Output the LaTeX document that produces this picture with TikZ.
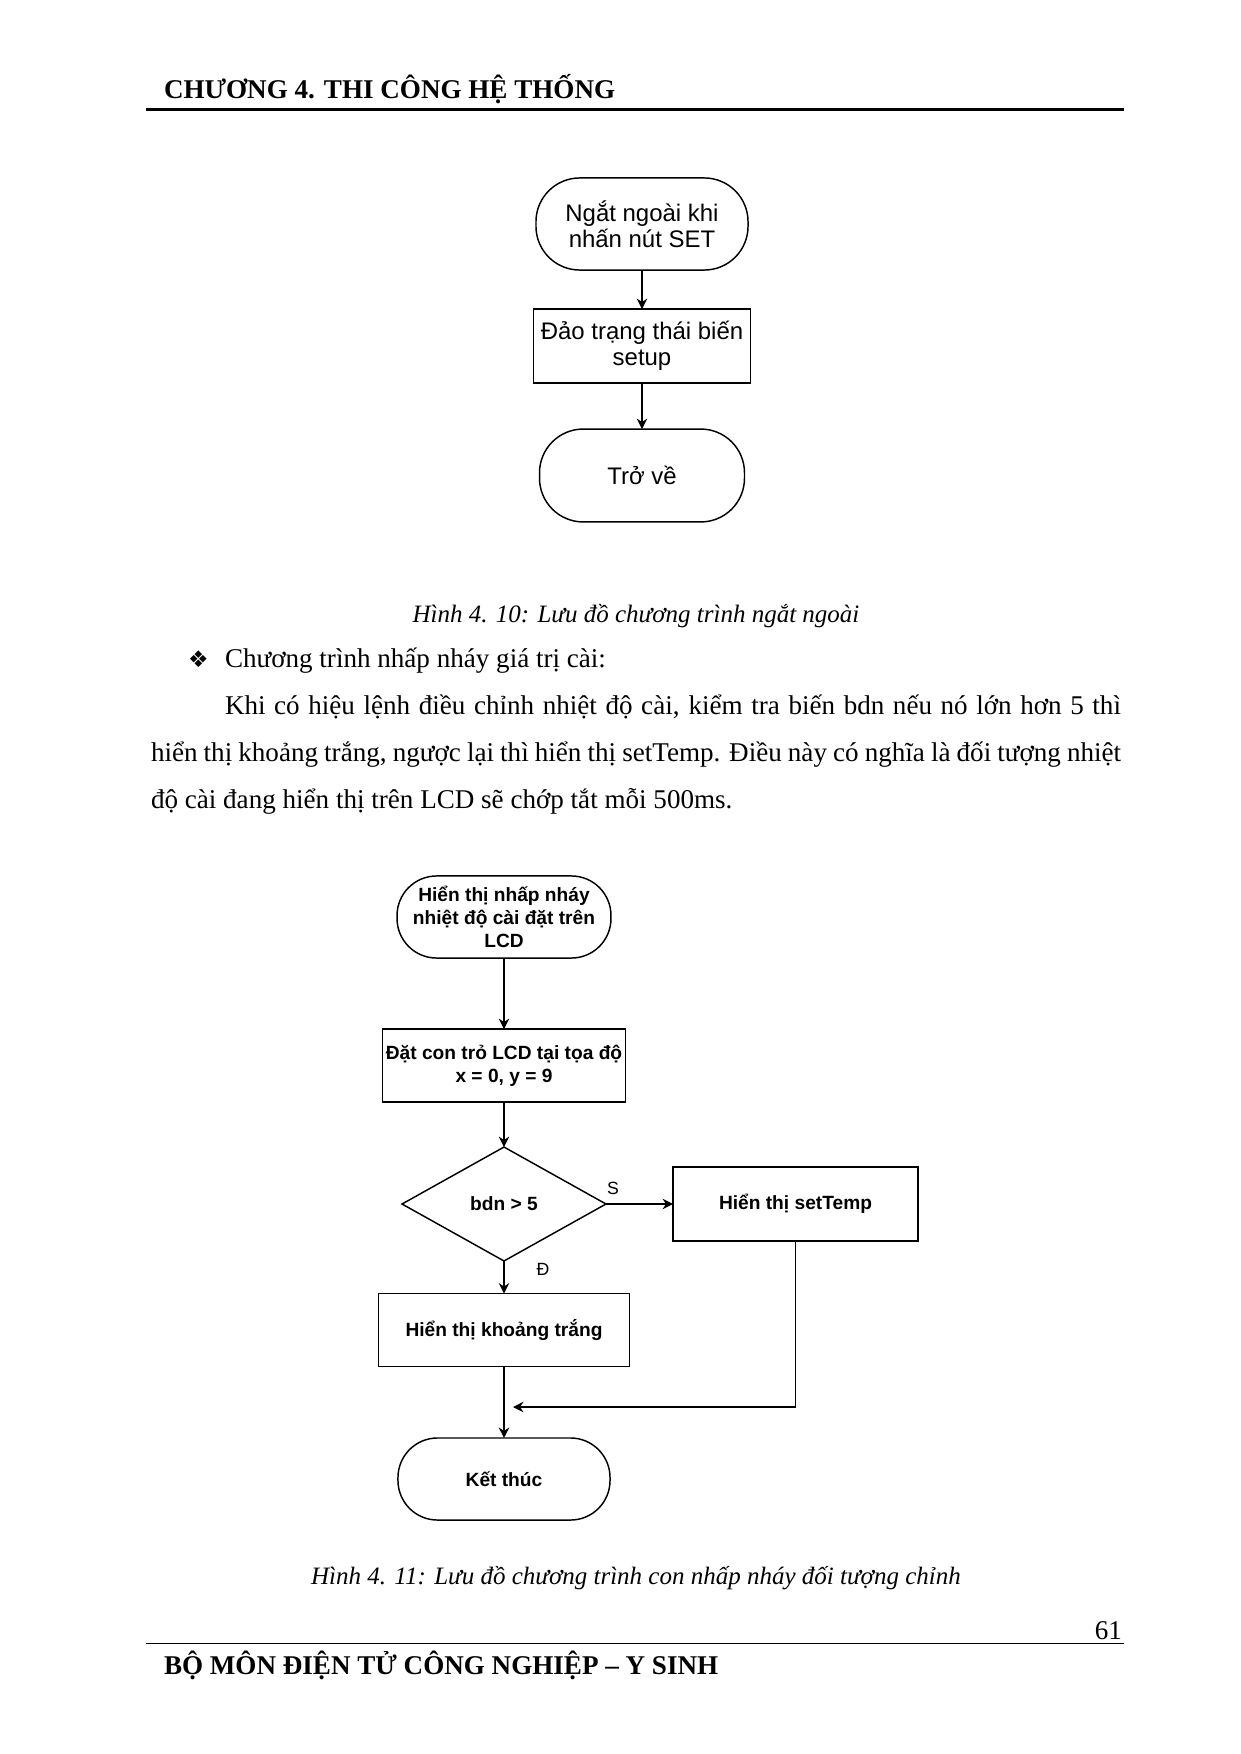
\documentclass[tikz,border=0pt]{standalone}
\usepackage{fontspec}
\setmainfont{Liberation Serif}
\newfontfamily\flowfont{Liberation Sans}
\newfontfamily\symfont{DejaVu Sans}
\usetikzlibrary{arrows.meta,shapes.geometric}

\begin{document}
\begin{tikzpicture}[x=0.48006pt,y=-0.48006pt,
  every node/.style={inner sep=0pt, outer sep=0pt},
  fig1/.style={draw, line width=0.7pt, font=\flowfont\fontsize{11.5}{12.5}\selectfont, align=center},
  term1/.style={fig1, rectangle, rounded corners=21pt},
  box1/.style={fig1, rectangle},
  fig2/.style={draw, line width=0.7pt, font=\flowfont\bfseries\fontsize{9.2}{11}\selectfont, align=center},
  term2/.style={fig2, rectangle, rounded corners=19pt},
  box2/.style={fig2, rectangle},
  dec/.style={fig2, diamond},
  flow/.style={line width=0.7pt, -{Stealth[length=5pt,width=5pt]}},
  lbl/.style={font=\flowfont\fontsize{8.5}{10}\selectfont},
  body/.style={font=\fontsize{13}{15}\selectfont, anchor=base west},
  figcap/.style={font=\itshape\fontsize{12}{14}\selectfont, anchor=base},
  head/.style={font=\bfseries\fontsize{13}{15}\selectfont, anchor=base west},
]
\fill[white] (0,0) rectangle (1240,1754);
\useasboundingbox (0,0) rectangle (1240,1754);

% header / footer
\node[head] (h) at (164,99) {CHƯƠNG 4. THI CÔNG HỆ THỐNG};
\draw[line width=1.4pt] (146,109.5) -- (1124,109.5);
\node[body, anchor=base east] (pg) at (1122,1639) {61};
\draw[line width=0.5pt] (146,1643.5) -- (1124,1643.5);
\node[head] (f) at (164,1674) {BỘ MÔN ĐIỆN TỬ CÔNG NGHIỆP – Y SINH};

% figure 1
\node[term1, minimum width=101.8pt, minimum height=44.2pt] (t1) at (642,224) {Ngắt ngoài khi\\nhấn nút SET};
\node[box1, minimum width=104.2pt, minimum height=35.5pt] (b1) at (642,346) {Đảo trạng thái biến\\setup};
\node[term1, minimum width=98.4pt, minimum height=44.6pt] (t2) at (642,475.5) {Trở về};
\draw[flow] (t1) -- (b1);
\draw[flow] (b1) -- (t2);

% captions and text
\node[figcap] (c1) at (636,622) {Hình 4. 10: Lưu đồ chương trình ngắt ngoài};
\node[body, font=\symfont\fontsize{11}{13}\selectfont] (bul) at (188,667) {❖};
\node[body] (bl) at (225,667) {Chương trình nhấp nháy giá trị cài:};
\node[body] (p1) at (225,714) {\makebox[430.1pt][s]{Khi có hiệu lệnh điều chỉnh nhiệt độ cài, kiểm tra biến bdn nếu nó lớn hơn 5 thì}};
\node[body] (p2) at (151,761) {\makebox[465.7pt][s]{hiển thị khoảng trắng, ngược lại thì hiển thị setTemp. Điều này có nghĩa là đối tượng nhiệt}};
\node[body] (p3) at (151,808) {độ cài đang hiển thị trên LCD sẽ chớp tắt mỗi 500ms.};
\node[figcap] (c2) at (636,1584) {Hình 4. 11: Lưu đồ chương trình con nhấp nháy đối tượng chỉnh};

% figure 2
\node[term2, minimum width=102.7pt, minimum height=39.4pt] (t3) at (504,917) {Hiển thị nhấp nháy\\nhiệt độ cài đặt trên\\LCD};
\node[box2, minimum width=116.7pt, minimum height=35pt] (b2) at (504,1065.5) {Đặt con trỏ LCD tại tọa độ\\x = 0, y = 9};
\node[dec, minimum width=97.9pt, minimum height=54.7pt] (d) at (504,1204) {bdn > 5};
\node[box2, minimum width=117.6pt, minimum height=35.5pt] (b4) at (795.5,1204) {Hiển thị setTemp};
\node[box2, minimum width=120.5pt, minimum height=35pt] (b3) at (504,1330) {Hiển thị khoảng trắng};
\node[term2, minimum width=101.8pt, minimum height=39.4pt] (t4) at (504,1479) {Kết thúc};
\coordinate (m) at (513,1407);
\draw[flow] (t3) -- (b2);
\draw[flow] (b2) -- (d);
\draw[flow] (d) -- (b4);
\draw[flow] (d) -- (b3);
\draw[flow] (b3) -- (t4);
\draw[flow] (b4.south) |- (m);
\node[lbl] (ls) at (613,1188) {S};
\node[lbl] (ld) at (543,1269) {Đ};
\end{tikzpicture}
\end{document}
